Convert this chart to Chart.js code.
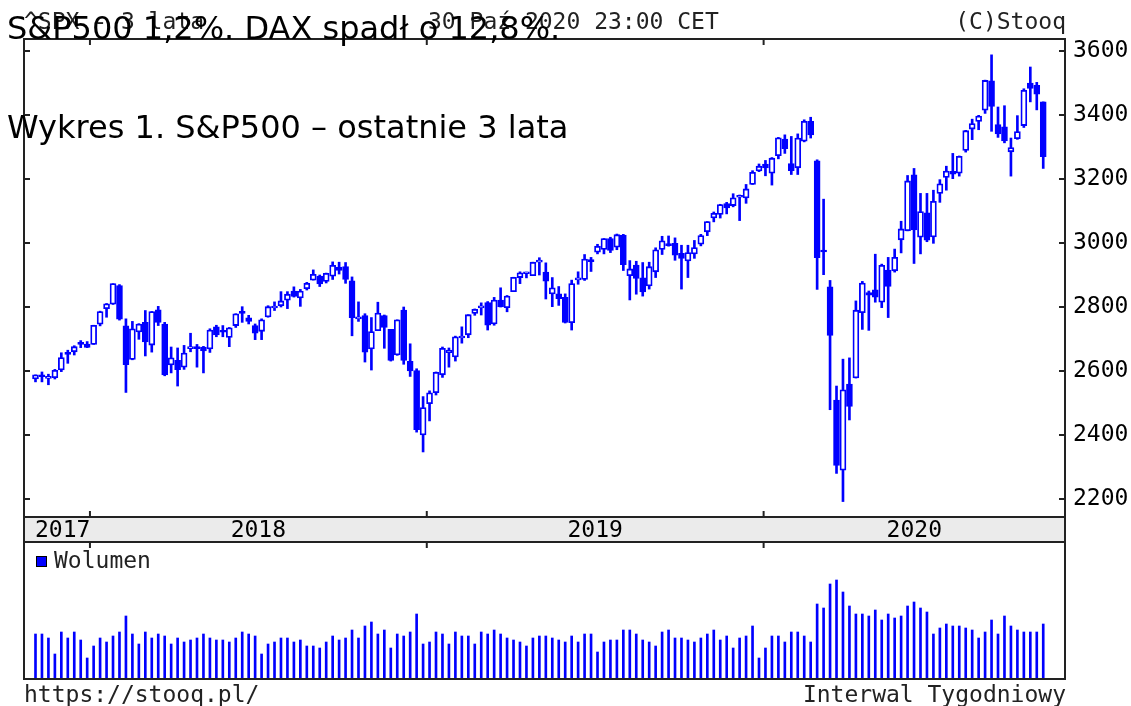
<!DOCTYPE html>
<html>
<head>
<meta charset="utf-8">
<script src="https://cdn.jsdelivr.net/npm/chart.js@4.4.0/dist/chart.umd.min.js"></script>
<style>
  html, body { margin: 0; padding: 0; background: #fff; }
  #page { position: relative; width: 1131px; height: 706px; overflow: hidden; }
  .box { position: absolute; left: 0; width: 1131px; }
  .mono { position: absolute; font-family: "DejaVu Sans Mono", monospace; font-size: 23px; line-height: 23px; color: #222; white-space: nowrap; }
  .big { position: absolute; font-family: "DejaVu Sans", sans-serif; font-size: 32px; line-height: 32px; color: #000; white-space: nowrap; z-index: 5; }
  #legendBox { position: absolute; left: 36px; top: 556px; width: 11px; height: 11px; box-sizing: border-box; background: #0000ff; border: 1px solid #000; }
</style>
</head>
<body>
<div id="page">
  <div class="box" style="top:0;height:543px"><canvas id="price"></canvas></div>
  <div class="box" style="top:542px;height:140px"><canvas id="volume"></canvas></div>

  <div class="mono" style="left:24px;top:10px">^SPX - 3 lata</div>
  <div class="mono" style="left:428px;top:10px">30 Paź 2020 23:00 CET</div>
  <div class="mono" style="right:65px;top:10px">(C)Stooq</div>

  <div id="legendBox"></div>
  <div class="mono" style="left:54px;top:549px">Wolumen</div>

  <div class="mono" style="left:24px;top:683px">https://stooq.pl/</div>
  <div class="mono" style="right:65px;top:683px">Interwal Tygodniowy</div>

  <div class="big" style="left:7px;top:12px">S&amp;P500 1,2%. DAX spadł o 12,8%.</div>
  <div class="big" style="left:7px;top:111px">Wykres 1. S&amp;P500 – ostatnie 3 lata</div>
</div>

<script>
// weekly candles, ^SPX, 3 Nov 2017 .. 30 Oct 2020 ------------------------------
const firstWeek = "2017-11-03";

const open = [
  2575, 2586, 2577, 2579, 2603, 2657, 2660, 2685, 2684,
  2683, 2746, 2795, 2809, 2867, 2741, 2636, 2722, 2752, 2681, 2791, 2747, 2619,
  2633, 2612, 2670, 2675, 2675, 2669, 2738, 2725, 2705, 2742, 2781, 2766, 2742,
  2724, 2769, 2797, 2804, 2821, 2850, 2828, 2857, 2884, 2897, 2880, 2896, 2925,
  2926, 2882, 2763, 2773, 2669, 2726, 2773, 2730, 2650, 2790, 2630, 2601, 2400,
  2498, 2532, 2588, 2657, 2644, 2703, 2713, 2780, 2797, 2814, 2747, 2822, 2798,
  2848, 2892, 2904, 2898, 2940, 2909, 2841, 2841, 2830, 2751, 2885, 2886, 2945,
  2971, 2980, 3014, 2987, 3025, 2898, 2931, 2891, 2866, 2910, 2980, 2996, 2999,
  2968, 2944, 2966, 2996, 3035, 3078, 3089, 3123, 3117, 3143, 3141, 3183, 3225,
  3247, 3218, 3273, 3325, 3248, 3235, 3318, 3380, 3257, 2974, 2863, 2509, 2290,
  2559, 2578, 2782, 2845, 2854, 2815, 2915, 2913, 3010, 3038, 3213, 3018, 3094,
  3019, 3155, 3205, 3224, 3218, 3289, 3356, 3380, 3415, 3507, 3370, 3363, 3285,
  3326, 3367, 3500, 3493, 3441
];
const high = [
  2588, 2597, 2590, 2605, 2657, 2665, 2679, 2695, 2692,
  2743, 2787, 2811, 2873, 2870, 2763, 2755, 2748, 2789, 2786, 2802, 2752, 2675,
  2672, 2680, 2718, 2683, 2677, 2732, 2743, 2742, 2736, 2779, 2801, 2774, 2747,
  2763, 2804, 2816, 2848, 2848, 2863, 2855, 2877, 2916, 2900, 2906, 2941, 2940,
  2939, 2894, 2816, 2779, 2767, 2815, 2775, 2730, 2760, 2800, 2685, 2607, 2520,
  2538, 2597, 2675, 2672, 2709, 2738, 2776, 2794, 2813, 2817, 2830, 2860, 2836,
  2893, 2910, 2909, 2940, 2954, 2938, 2892, 2864, 2841, 2884, 2910, 2964, 2955,
  2996, 3014, 3018, 3028, 3027, 2945, 2943, 2939, 2940, 2985, 3021, 3022, 3016,
  2993, 2993, 3008, 3027, 3067, 3097, 3121, 3127, 3154, 3150, 3183, 3226, 3247,
  3258, 3267, 3330, 3338, 3333, 3341, 3385, 3393, 3260, 3137, 2883, 2553, 2637,
  2641, 2819, 2880, 2850, 2965, 2934, 2955, 2981, 3068, 3211, 3233, 3155, 3155,
  3165, 3198, 3240, 3280, 3272, 3352, 3387, 3399, 3509, 3588, 3425, 3429, 3328,
  3398, 3482, 3550, 3502, 3441
];
const low = [
  2566, 2566, 2557, 2575, 2598, 2624, 2650, 2673, 2673,
  2683, 2741, 2768, 2808, 2759, 2533, 2635, 2699, 2647, 2659, 2742, 2585, 2594,
  2553, 2605, 2660, 2612, 2594, 2658, 2707, 2707, 2676, 2736, 2752, 2747, 2698,
  2698, 2768, 2789, 2800, 2795, 2831, 2802, 2853, 2884, 2864, 2875, 2886, 2903,
  2874, 2710, 2755, 2628, 2603, 2726, 2671, 2631, 2649, 2621, 2583, 2409, 2347,
  2444, 2525, 2580, 2612, 2631, 2687, 2704, 2774, 2775, 2728, 2743, 2800, 2785,
  2848, 2873, 2891, 2898, 2900, 2825, 2801, 2805, 2750, 2728, 2871, 2883, 2911,
  2966, 2966, 2970, 2979, 2914, 2822, 2840, 2834, 2856, 2892, 2964, 2990, 2946,
  2856, 2892, 2952, 2991, 3023, 3066, 3078, 3091, 3113, 3070, 3124, 3183, 3223,
  3210, 3181, 3263, 3280, 3214, 3214, 3316, 3328, 2855, 2901, 2479, 2280, 2192,
  2447, 2578, 2730, 2727, 2815, 2798, 2767, 2909, 2969, 3038, 2936, 2966, 3004,
  2999, 3127, 3165, 3201, 3209, 3284, 3323, 3354, 3405, 3349, 3330, 3313, 3209,
  3324, 3361, 3441, 3416, 3233
];
const close = [
  2588, 2582, 2579, 2602, 2642, 2652, 2676, 2683, 2674,
  2743, 2786, 2810, 2873, 2762, 2620, 2732, 2747, 2691, 2786, 2752, 2588, 2641,
  2604, 2656, 2670, 2670, 2663, 2728, 2713, 2721, 2735, 2779, 2780, 2755, 2718,
  2760, 2801, 2802, 2819, 2840, 2833, 2850, 2874, 2902, 2872, 2905, 2930, 2914,
  2886, 2767, 2768, 2659, 2723, 2781, 2736, 2633, 2760, 2633, 2600, 2417, 2486,
  2532, 2596, 2671, 2665, 2707, 2708, 2776, 2793, 2804, 2743, 2822, 2800, 2834,
  2893, 2907, 2905, 2940, 2946, 2881, 2860, 2826, 2752, 2873, 2887, 2950, 2942,
  2990, 3014, 2977, 3026, 2932, 2919, 2889, 2847, 2926, 2979, 3007, 2992, 2962,
  2952, 2970, 2986, 3023, 3067, 3093, 3120, 3110, 3141, 3146, 3169, 3221, 3240,
  3235, 3265, 3329, 3295, 3226, 3328, 3380, 3338, 2954, 2972, 2711, 2305, 2541,
  2489, 2790, 2875, 2837, 2831, 2930, 2864, 2955, 3044, 3194, 3041, 3098, 3009,
  3130, 3185, 3225, 3215, 3271, 3351, 3373, 3397, 3508, 3427, 3341, 3319, 3298,
  3348, 3477, 3483, 3465, 3270
];
// relative weekly volume (bar height, same units as the lower panel)
const volume = [
  44, 44, 40, 24, 46, 40, 46, 38, 20,
  32, 40, 36, 42, 46, 62, 44, 34, 46, 40, 44, 42, 34,
  40, 36, 38, 40, 44, 40, 38, 38, 36, 40, 46, 44, 42,
  24, 34, 36, 40, 40, 36, 38, 32, 32, 30, 36, 42, 38,
  40, 48, 40, 52, 56, 44, 48, 30, 44, 42, 46, 64, 34,
  36, 46, 44, 34, 46, 42, 42, 34, 46, 44, 48, 44, 40,
  38, 36, 32, 40, 42, 42, 40, 38, 36, 42, 36, 44, 44,
  26, 36, 38, 38, 48, 48, 44, 38, 36, 32, 46, 48, 40,
  40, 38, 36, 40, 44, 48, 38, 42, 30, 40, 42, 52, 20,
  30, 42, 42, 36, 46, 46, 42, 36, 74, 70, 94, 98, 86,
  72, 64, 64, 62, 68, 58, 64, 60, 62, 72, 76, 70, 66,
  44, 50, 54, 52, 52, 50, 48, 40, 46, 58, 44, 62, 52,
  48, 46, 46, 46, 54
];

const priceTicks = [2200, 2400, 2600, 2800, 3000, 3200, 3400, 3600];
const yearLabels = ["2017", "2018", "2019", "2020"];
const yearStarts = ["2018-01-01", "2019-01-01", "2020-01-01"];

// --------------------------------------------------------------------------------
const BLUE = "#0000ff";
const FRAME = "#222";
const MONO = "DejaVu Sans Mono";
const xMin = -1.78;
const xMax = 159.37;

// week index of a calendar date, counted from the first candle
function weekPos(d) {
  return (Date.parse(d) - Date.parse(firstWeek)) / (7 * 86400000);
}
const bounds = yearStarts.map(weekPos);
const edges = [0].concat(bounds, [xMax]);
const yearMid = yearLabels.map((y, i) => (edges[i] + edges[i + 1]) / 2);

function line(ctx, x1, y1, x2, y2) {
  ctx.beginPath();
  ctx.moveTo(x1, y1);
  ctx.lineTo(x2, y2);
  ctx.stroke();
}

// frame, year band and inner tick marks of the price panel
const priceFrame = {
  id: "priceFrame",
  beforeDraw(chart) {
    const { ctx, chartArea: a } = chart;
    ctx.save();
    ctx.fillStyle = "#ebebeb";
    ctx.fillRect(a.left, a.bottom, a.right - a.left, 25);
    ctx.restore();
  },
  afterDraw(chart) {
    const { ctx, chartArea: a, scales } = chart;
    ctx.save();
    ctx.strokeStyle = FRAME;
    ctx.lineWidth = 2;
    ctx.strokeRect(a.left, a.top, a.right - a.left, a.bottom - a.top);
    line(ctx, a.left, a.bottom, a.left, a.bottom + 26);
    line(ctx, a.right, a.bottom, a.right, a.bottom + 26);
    line(ctx, a.left - 1, a.bottom + 25, a.right + 1, a.bottom + 25);
    priceTicks.forEach((v) => {
      const y = scales.y.getPixelForValue(v);
      line(ctx, a.left, y, a.left + 6, y);
      line(ctx, a.right - 6, y, a.right, y);
    });
    bounds.forEach((b) => {
      const x = scales.x.getPixelForValue(b);
      line(ctx, x, a.top, x, a.top + 6);
      line(ctx, x, a.bottom - 6, x, a.bottom);
    });
    ctx.restore();
  },
};

const volFrame = {
  id: "volFrame",
  afterDraw(chart) {
    const { ctx, chartArea: a, scales } = chart;
    ctx.save();
    ctx.strokeStyle = FRAME;
    ctx.lineWidth = 2;
    line(ctx, a.left, 0, a.left, a.bottom + 2);
    line(ctx, a.right, 0, a.right, a.bottom + 2);
    line(ctx, a.left - 1, a.bottom + 1, a.right + 1, a.bottom + 1);
    bounds.forEach((b) => {
      const x = scales.x.getPixelForValue(b);
      line(ctx, x, 0, x, 6);
    });
    ctx.restore();
  },
};

const bodies = open.map((o, i) => ({ x: i, y: [Math.min(o, close[i]), Math.max(o, close[i])] }));
const wicks = high.map((h, i) => ({ x: i, y: [low[i], h] }));

new Chart(document.getElementById("price"), {
  type: "bar",
  data: {
    datasets: [
      {
        label: "body",
        data: bodies,
        backgroundColor: open.map((o, i) => (close[i] >= o ? "#ffffff" : BLUE)),
        borderColor: BLUE,
        borderWidth: 1.8,
        borderSkipped: false,
        barThickness: 6,
        minBarLength: 2,
        grouped: false,
        order: 1,
      },
      {
        label: "wick",
        data: wicks,
        backgroundColor: BLUE,
        borderWidth: 0,
        barThickness: 2,
        grouped: false,
        order: 2,
      },
    ],
  },
  options: {
    responsive: true,
    maintainAspectRatio: false,
    animation: false,
    events: [],
    layout: { padding: { left: 24, top: 39, right: 0, bottom: 0 } },
    plugins: { legend: { display: false }, tooltip: { enabled: false } },
    scales: {
      x: {
        type: "linear",
        min: xMin,
        max: xMax,
        offset: false,
        position: "bottom",
        grid: { display: false, drawTicks: false },
        border: { display: false },
        afterBuildTicks: (s) => { s.ticks = yearMid.map((v) => ({ value: v })); },
        afterFit: (s) => { s.height = 26; },
        ticks: {
          autoSkip: false,
          maxRotation: 0,
          padding: 0,
          color: "#000",
          font: { family: MONO, size: 23 },
          callback: (v, i) => yearLabels[i],
        },
      },
      y: {
        position: "right",
        min: 2143.75,
        max: 3637.5,
        grid: { display: false, drawTicks: false },
        border: { display: false },
        afterBuildTicks: (s) => { s.ticks = priceTicks.map((v) => ({ value: v })); },
        afterFit: (s) => { s.width = 1131 - 1065; },
        ticks: {
          padding: 8,
          color: "#000",
          font: { family: MONO, size: 23 },
          callback: (v) => String(v),
        },
      },
    },
  },
  plugins: [priceFrame],
});

new Chart(document.getElementById("volume"), {
  type: "bar",
  data: {
    datasets: [
      {
        label: "Wolumen",
        data: volume.map((v, i) => ({ x: i, y: v })),
        backgroundColor: BLUE,
        borderWidth: 0,
        barThickness: 2,
      },
    ],
  },
  options: {
    responsive: true,
    maintainAspectRatio: false,
    animation: false,
    events: [],
    layout: { padding: { left: 24, top: 0, right: 1131 - 1065, bottom: 4 } },
    plugins: { legend: { display: false }, tooltip: { enabled: false } },
    scales: {
      x: { type: "linear", min: xMin, max: xMax, offset: false, display: false },
      y: { min: 0, max: 136, display: false },
    },
  },
  plugins: [volFrame],
});
</script>
</body>
</html>
